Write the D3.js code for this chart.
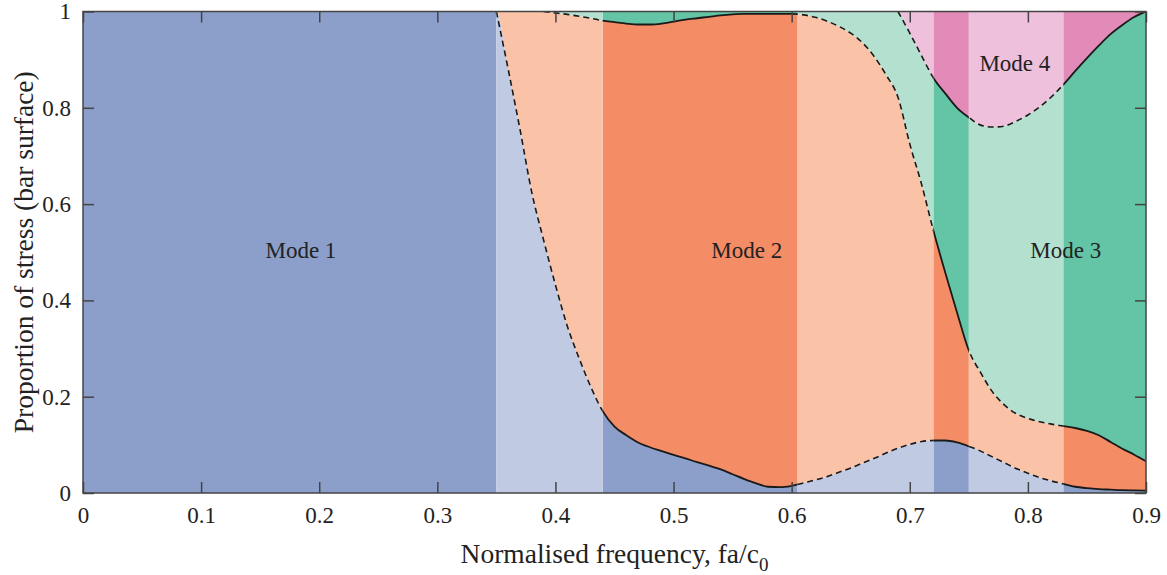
<!DOCTYPE html>
<html>
<head>
<meta charset="utf-8">
<script src="https://cdn.jsdelivr.net/npm/d3@7"></script>
<style>
  body { margin: 0; background: #fff; }
  svg text { font-family: "Liberation Serif", "Times New Roman", Times, serif; fill: #222; }
</style>
</head>
<body>
<div id="chart"></div>
<script>
// normalised frequency fa/c0
const freq = [0, 0.35, 0.36, 0.37, 0.38, 0.39, 0.40, 0.41, 0.42, 0.43, 0.44, 0.45, 0.46, 0.47, 0.48, 0.49,
  0.50, 0.51, 0.52, 0.53, 0.54, 0.55, 0.56, 0.57, 0.58, 0.59, 0.60, 0.61, 0.62, 0.63, 0.64, 0.65, 0.66, 0.67, 0.68, 0.69,
  0.70, 0.71, 0.72, 0.73, 0.74, 0.75, 0.76, 0.77, 0.78, 0.79, 0.80, 0.81, 0.82, 0.83, 0.84, 0.85, 0.86, 0.87, 0.88, 0.89, 0.90];

// proportion of stress carried by each mode
const mode1 = [1, 1, 0.88, 0.755, 0.624, 0.525, 0.432, 0.347, 0.28, 0.22, 0.17, 0.138, 0.12, 0.105, 0.095, 0.087,
  0.079, 0.072, 0.064, 0.057, 0.049, 0.039, 0.029, 0.02, 0.013, 0.012, 0.015, 0.021, 0.027, 0.034, 0.043, 0.052, 0.062, 0.072, 0.083, 0.093,
  0.101, 0.107, 0.109, 0.109, 0.105, 0.097, 0.087, 0.075, 0.063, 0.051, 0.041, 0.032, 0.025, 0.019, 0.013, 0.01, 0.008, 0.007, 0.006, 0.0055, 0.005];
const mode2 = [0, 0, 0.12, 0.245, 0.376, 0.475, 0.565, 0.647, 0.71, 0.766, 0.811, 0.84, 0.855, 0.868, 0.878, 0.888,
  0.9, 0.911, 0.922, 0.932, 0.943, 0.955, 0.966, 0.975, 0.982, 0.983, 0.98, 0.972, 0.961, 0.946, 0.926, 0.903, 0.873, 0.834, 0.785, 0.729,
  0.624, 0.534, 0.436, 0.349, 0.27, 0.199, 0.163, 0.135, 0.12, 0.114, 0.114, 0.116, 0.118, 0.12, 0.122, 0.119, 0.112, 0.099, 0.086, 0.074, 0.061];
const mode3 = [0, 0, 0, 0, 0, 0, 0.003, 0.006, 0.01, 0.014, 0.019, 0.022, 0.025, 0.027, 0.027, 0.025,
  0.021, 0.017, 0.014, 0.011, 0.008, 0.006, 0.005, 0.005, 0.005, 0.005, 0.005, 0.007, 0.012, 0.02, 0.031, 0.045, 0.065, 0.094, 0.132, 0.178,
  0.23, 0.267, 0.317, 0.372, 0.425, 0.484, 0.514, 0.55, 0.579, 0.607, 0.63, 0.654, 0.68, 0.709, 0.741, 0.774, 0.809, 0.847, 0.88, 0.909, 0.934];
const mode4 = [0, 0, 0, 0, 0, 0, 0, 0, 0, 0, 0, 0, 0, 0, 0, 0,
  0, 0, 0, 0, 0, 0, 0, 0, 0, 0, 0, 0, 0, 0, 0, 0, 0, 0, 0, 0,
  0.045, 0.092, 0.138, 0.17, 0.2, 0.22, 0.236, 0.24, 0.238, 0.228, 0.215, 0.198, 0.177, 0.152, 0.124, 0.097, 0.071, 0.047, 0.028, 0.012, 0];

const modeNames = ["Mode 1", "Mode 2", "Mode 3", "Mode 4"];
const darkColors = ["#8b9fca", "#f48c65", "#64c4a6", "#e28ab8"];
const lightColors = ["#c0cae3", "#fac3a8", "#b4e0d0", "#efc0dc"];
// label anchor points (frequency, proportion)
const labelFreq = [0.1845, 0.562, 0.832, 0.789];
const labelProp = [0.504, 0.504, 0.504, 0.894];

// frequency bands where the mode is dominant (dark shading)
const darkBands = [[0, 0.35], [0.44, 0.605], [0.72, 0.75], [0.83, 0.9]];
const lightBands = [[0.35, 0.44], [0.605, 0.72], [0.75, 0.83]];

const xTicks = [0, 0.1, 0.2, 0.3, 0.4, 0.5, 0.6, 0.7, 0.8, 0.9];
const yTicks = [0, 0.2, 0.4, 0.6, 0.8, 1];

const width = 1167, height = 575;
const margin = { top: 11.5, right: 21, bottom: 82, left: 83 };
const iw = width - margin.left - margin.right;
const ih = height - margin.top - margin.bottom;

const x = d3.scaleLinear().domain([0, 0.9]).range([0, iw]);
const y = d3.scaleLinear().domain([0, 1]).range([ih, 0]);

const rows = freq.map((f, i) => ({ f, m1: mode1[i], m2: mode2[i], m3: mode3[i], m4: mode4[i] }));
const series = d3.stack().keys(["m1", "m2", "m3", "m4"])(rows);

const svg = d3.select("#chart").append("svg").attr("width", width).attr("height", height);
const defs = svg.append("defs");

function addClip(id, bands) {
  const cp = defs.append("clipPath").attr("id", id);
  bands.forEach((b) => {
    cp.append("rect")
      .attr("x", x(b[0])).attr("y", 0)
      .attr("width", x(b[1]) - x(b[0])).attr("height", ih);
  });
}
addClip("dark-clip", darkBands);
addClip("light-clip", lightBands);

const g = svg.append("g").attr("transform", `translate(${margin.left},${margin.top})`);

const area = d3.area()
  .x((d) => x(d.data.f))
  .y0((d) => y(d[0]))
  .y1((d) => y(d[1]))
  .curve(d3.curveMonotoneX);

const darkLayer = g.append("g").attr("clip-path", "url(#dark-clip)");
const lightLayer = g.append("g").attr("clip-path", "url(#light-clip)");
darkLayer.selectAll("path").data(series).join("path")
  .attr("d", area).attr("fill", (d, i) => darkColors[i]);
lightLayer.selectAll("path").data(series).join("path")
  .attr("d", area).attr("fill", (d, i) => lightColors[i]);

// boundaries between modes: solid over dark bands, dashed over light bands
const bounds = series.slice(0, 3).map((s) => {
  const first = s.findIndex((d) => d[1] < 0.9999);
  return s.slice(Math.max(0, first - 1));
});
const line = d3.line()
  .x((d) => x(d.data.f))
  .y((d) => y(d[1]))
  .curve(d3.curveMonotoneX);

g.append("g").attr("clip-path", "url(#dark-clip)")
  .selectAll("path").data(bounds).join("path")
  .attr("d", line).attr("fill", "none")
  .attr("stroke", "#1a1a1a").attr("stroke-width", 1.8);
g.append("g").attr("clip-path", "url(#light-clip)")
  .selectAll("path").data(bounds).join("path")
  .attr("d", line).attr("fill", "none")
  .attr("stroke", "#1a1a1a").attr("stroke-width", 1.6)
  .attr("stroke-dasharray", "6,4");

g.selectAll(".mode-label").data(modeNames).join("text")
  .attr("class", "mode-label")
  .attr("x", (d, i) => x(labelFreq[i]))
  .attr("y", (d, i) => y(labelProp[i]))
  .attr("dy", "0.35em")
  .attr("text-anchor", "middle")
  .style("font-size", "23px")
  .text((d) => d);

// axes: ticks point inwards on all four sides
const fmt = d3.format(".1~f");
function styleAxis(sel) {
  sel.attr("font-family", null);
  sel.select(".domain").remove();
  sel.selectAll(".tick line").attr("stroke", "#444").attr("stroke-width", 1.5);
  sel.selectAll(".tick text").style("font-size", "23px").attr("fill", "#222");
}
g.append("g").attr("transform", `translate(0,${ih})`)
  .call(d3.axisBottom(x).tickValues(xTicks).tickFormat(fmt).tickSizeInner(-11).tickSizeOuter(0).tickPadding(14))
  .call(styleAxis);
g.append("g")
  .call(d3.axisTop(x).tickValues(xTicks).tickFormat("").tickSizeInner(-11).tickSizeOuter(0))
  .call(styleAxis);
g.append("g")
  .call(d3.axisLeft(y).tickValues(yTicks).tickFormat(fmt).tickSizeInner(-11).tickSizeOuter(0).tickPadding(12))
  .call(styleAxis);
g.append("g").attr("transform", `translate(${iw},0)`)
  .call(d3.axisRight(y).tickValues(yTicks).tickFormat("").tickSizeInner(-11).tickSizeOuter(0))
  .call(styleAxis);

g.append("rect")
  .attr("width", iw).attr("height", ih)
  .attr("fill", "none").attr("stroke", "#444").attr("stroke-width", 1.5);

// axis titles
const xt = svg.append("text")
  .attr("x", margin.left + iw / 2)
  .attr("y", 563)
  .attr("text-anchor", "middle")
  .style("font-size", "27.5px");
xt.append("tspan").text("Normalised frequency, fa/c");
xt.append("tspan").attr("dy", 8).style("font-size", "19px").text("0");

svg.append("text")
  .attr("transform", `translate(33,${margin.top + ih / 2}) rotate(-90)`)
  .attr("text-anchor", "middle")
  .style("font-size", "27.5px")
  .text("Proportion of stress (bar surface)");
</script>
</body>
</html>
